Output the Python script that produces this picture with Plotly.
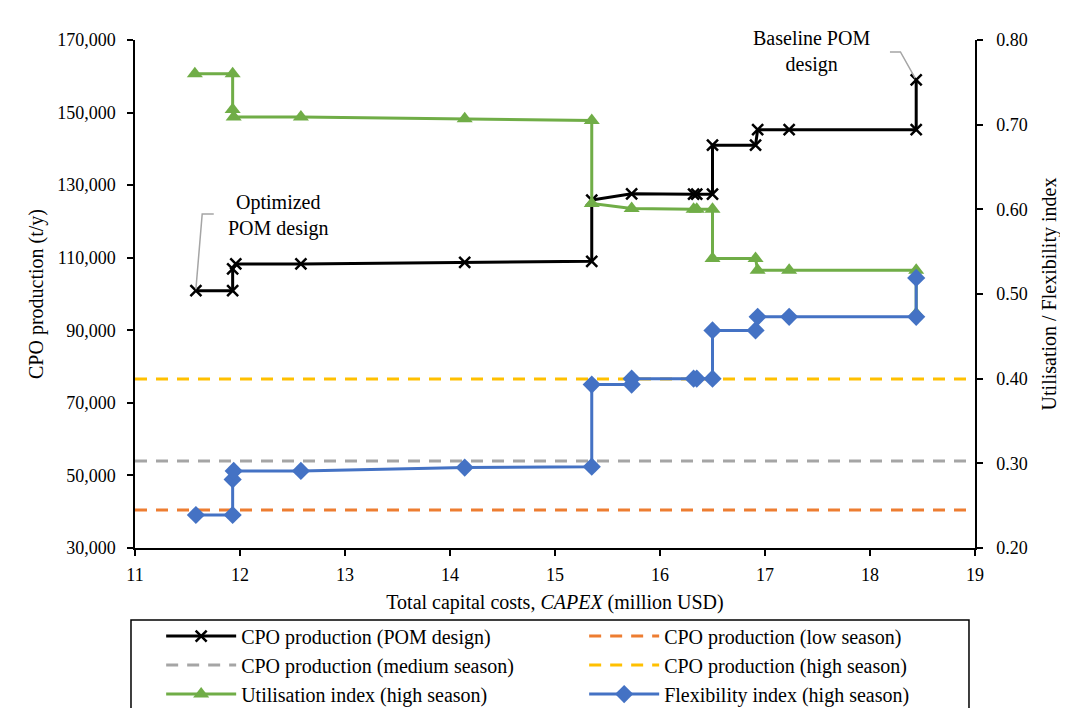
import plotly.graph_objects as go

# ---- data ----
capex_cpo = [11.58, 11.93, 11.93, 11.96, 12.58, 14.14, 15.35, 15.35, 15.73, 16.32, 16.35,
             16.50, 16.50, 16.91, 16.93, 17.23, 18.44, 18.44]
cpo_pom = [100900, 100900, 106900, 108300, 108300, 108700, 109000, 125900, 127600, 127500,
           127500, 127500, 141000, 141000, 145300, 145300, 145300, 159000]

capex_util = [11.57, 11.93, 11.93, 11.94, 12.58, 14.14, 15.35, 15.35, 15.73, 16.32, 16.35,
              16.50, 16.50, 16.91, 16.93, 17.23, 18.44, 18.44]
util_idx = [0.760, 0.760, 0.718, 0.709, 0.709, 0.707, 0.705, 0.607, 0.601, 0.600, 0.600,
            0.600, 0.542, 0.542, 0.528, 0.528, 0.528, 0.477]

capex_flex = [11.58, 11.93, 11.93, 11.94, 12.58, 14.14, 15.35, 15.35, 15.73, 15.73, 16.32,
              16.35, 16.50, 16.50, 16.91, 16.93, 17.23, 18.44, 18.44]
flex_idx = [0.239, 0.239, 0.281, 0.291, 0.291, 0.295, 0.296, 0.393, 0.393, 0.400, 0.400,
            0.400, 0.400, 0.457, 0.457, 0.473, 0.473, 0.473, 0.519]

season_x = [11, 19]
cpo_low = 40500
cpo_medium = 54000
cpo_high = 76600

x_ticks = [11, 12, 13, 14, 15, 16, 17, 18, 19]
y_ticks = [30000, 50000, 70000, 90000, 110000, 130000, 150000, 170000]
y2_ticks = [0.20, 0.30, 0.40, 0.50, 0.60, 0.70, 0.80]

FONT = "Liberation Serif, Times New Roman, serif"
GREEN = "#70AD47"
BLUE = "#4472C4"
ORANGE = "#ED7D31"
GRAY = "#A5A5A5"
YELLOW = "#FFC000"
TICK_SIZE = 18
TEXT_SIZE = 20

fig = go.Figure()

fig.add_trace(go.Scatter(
    x=capex_cpo, y=cpo_pom, mode="lines+markers", name="CPO production (POM design)",
    line=dict(color="black", width=3),
    marker=dict(symbol="x-thin", size=11, line=dict(color="black", width=2.5)),
))
fig.add_trace(go.Scatter(
    x=season_x, y=[cpo_low, cpo_low], mode="lines", name="CPO production (low season)",
    line=dict(color=ORANGE, width=3, dash="12px,9px"),
))
fig.add_trace(go.Scatter(
    x=season_x, y=[cpo_medium, cpo_medium], mode="lines", name="CPO production (medium season)",
    line=dict(color=GRAY, width=3, dash="12px,9px"),
))
fig.add_trace(go.Scatter(
    x=season_x, y=[cpo_high, cpo_high], mode="lines", name="CPO production (high season)",
    line=dict(color=YELLOW, width=3, dash="12px,9px"),
))
fig.add_trace(go.Scatter(
    x=capex_util, y=util_idx, mode="lines+markers", name="Utilisation index (high season)",
    yaxis="y2",
    line=dict(color=GREEN, width=3),
    marker=dict(symbol="triangle-up", size=14, color=GREEN),
))
fig.add_trace(go.Scatter(
    x=capex_flex, y=flex_idx, mode="lines+markers", name="Flexibility index (high season)",
    yaxis="y2",
    line=dict(color=BLUE, width=3),
    marker=dict(symbol="diamond", size=14, color=BLUE),
))

axis_common = dict(
    showline=True, linecolor="black", linewidth=1.5,
    ticks="outside", ticklen=6, tickwidth=1.5, tickcolor="black",
    showgrid=False, zeroline=False,
    tickfont=dict(family=FONT, size=TICK_SIZE, color="black"),
)

# page body has an 8px margin: plot area drawn at screen x 135..973, y 40..548
fig.update_layout(
    width=1068, height=708,
    margin=dict(l=127, r=101, t=32, b=168, autoexpand=False),
    paper_bgcolor="white", plot_bgcolor="white",
    font=dict(family=FONT, size=TEXT_SIZE, color="black"),
    xaxis=dict(
        range=[11, 19], tickvals=x_ticks, ticklabelstandoff=4,
        title=dict(text="Total capital costs, <i>CAPEX</i> (million USD)",
                   font=dict(family=FONT, size=TEXT_SIZE), standoff=11),
        **axis_common,
    ),
    yaxis=dict(
        range=[30000, 170000], tickvals=y_ticks, tickformat=",", ticklabelstandoff=8,
        title=dict(text="CPO production (t/y)", font=dict(family=FONT, size=TEXT_SIZE), standoff=8),
        **axis_common,
    ),
    yaxis2=dict(
        range=[0.20, 0.80], tickvals=y2_ticks, tickformat=".2f", ticklabelstandoff=10,
        overlaying="y", side="right",
        title=dict(text="Utilisation / Flexibility index", font=dict(family=FONT, size=TEXT_SIZE), standoff=15),
        **axis_common,
    ),
    legend=dict(
        orientation="h", x=-0.001, xanchor="left", y=-0.135, yanchor="top",
        entrywidth=311, entrywidthmode="pixels", indentation=27,
        borderwidth=0, bgcolor="rgba(0,0,0,0)",
        font=dict(family=FONT, size=TEXT_SIZE, color="black"),
        itemwidth=70, traceorder="normal",
    ),
    showlegend=True,
)

# legend frame
fig.add_shape(type="rect", xref="paper", yref="paper",
              x0=-0.00477, x1=0.99284, y0=-0.3543, y1=-0.14173,
              line=dict(color="black", width=1.5), fillcolor="rgba(0,0,0,0)")

# annotations with leader lines
fig.add_annotation(x=12.37, y=121500, xref="x", yref="y", text="Optimized<br>POM design",
                   showarrow=False, font=dict(family=FONT, size=TEXT_SIZE, color="black"),
                   xanchor="center", yanchor="middle")
fig.add_annotation(x=17.44, y=166700, xref="x", yref="y", text="Baseline POM<br>design",
                   showarrow=False, font=dict(family=FONT, size=TEXT_SIZE, color="black"),
                   xanchor="center", yanchor="middle")

fig.add_shape(type="path", xref="x", yref="y",
              path="M 11.75,122050 L 11.64,122050 L 11.58,101300",
              line=dict(color=GRAY, width=1.5))
fig.add_shape(type="path", xref="x", yref="y",
              path="M 18.19,166700 L 18.29,166700 L 18.43,159500",
              line=dict(color=GRAY, width=1.5))

fig.write_html("out.html")
